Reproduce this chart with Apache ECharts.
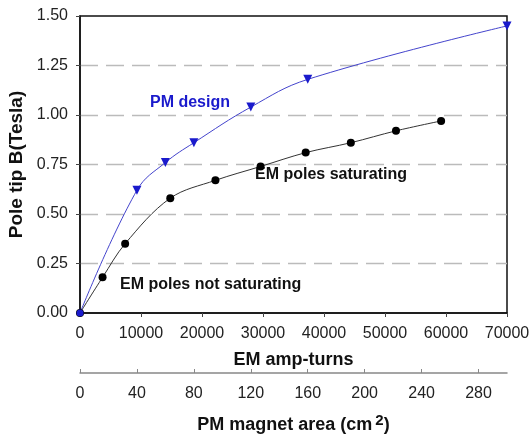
<!DOCTYPE html>
<html><head><meta charset="utf-8">
<script src="https://cdn.jsdelivr.net/npm/echarts@6/dist/echarts.min.js"></script>
<style>html,body{margin:0;padding:0;background:#fff}#c{width:530px;height:436px}</style>
</head><body><div id="c"></div>
<script>
// EM poles (x: EM amp-turns, y: pole tip B in Tesla)
const emAmpTurns = [0, 3700, 7400, 14800, 22200, 29600, 37000, 44400, 51800, 59200];
const emB = [0, 0.18, 0.35, 0.58, 0.67, 0.74, 0.81, 0.86, 0.92, 0.97];
// PM design (x: PM magnet area cm^2, y: pole tip B in Tesla)
const pmArea = [0, 40, 60, 80, 120, 160, 300];
const pmB = [0, 0.62, 0.76, 0.86, 1.04, 1.18, 1.45];
// axis ticks
const yTicks = [0, 0.25, 0.5, 0.75, 1.0, 1.25, 1.5];
const ampTicks = [0, 10000, 20000, 30000, 40000, 50000, 60000, 70000];
const areaTicks = [0, 40, 80, 120, 160, 200, 240, 280];

const FONT = 'Liberation Sans, Arial, sans-serif';
const chart = echarts.init(document.getElementById('c'), null, {renderer: 'canvas'});

const emData = emAmpTurns.map((x, i) => [x, emB[i]]);
const pmData = pmArea.map((x, i) => i === 0 ? {value: [x, pmB[i]], symbol: 'circle', symbolSize: 7, symbolRotate: 0} : [x, pmB[i]]);

chart.setOption({
  animation: false,
  textStyle: {fontFamily: FONT},
  grid: {left: 80, right: 23, top: 16, bottom: 123, containLabel: false, outerBoundsMode: 'none',
         show: true, borderColor: '#111', borderWidth: 1.5, backgroundColor: 'transparent'},
  xAxis: [{
    type: 'value', min: ampTicks[0], max: ampTicks[ampTicks.length - 1], interval: ampTicks[1] - ampTicks[0],
    position: 'bottom',
    axisLine: {show: true, lineStyle: {color: '#111', width: 1.5}},
    axisTick: {show: true, length: 4, lineStyle: {color: '#444'}},
    axisLabel: {color: '#222', fontSize: 16, margin: 13, formatter: v => String(v), fontFamily: FONT},
    splitLine: {show: false},
    name: 'EM amp-turns', nameLocation: 'middle', nameGap: 38,
    nameTextStyle: {color: '#111', fontSize: 18, fontWeight: 'bold', fontFamily: FONT}
  }, {
    type: 'value', min: areaTicks[0], max: 300, interval: areaTicks[1] - areaTicks[0],
    position: 'bottom', offset: 60,
    axisLine: {show: true, lineStyle: {color: '#888', width: 1.5}},
    axisTick: {show: true, inside: true, length: 4, lineStyle: {color: '#888'}},
    axisLabel: {color: '#222', fontSize: 16, margin: 13, showMaxLabel: false, fontFamily: FONT},
    splitLine: {show: false},
    name: '{n|PM magnet area (cm}{s|2}{n|)}', nameLocation: 'middle', nameGap: 40,
    nameTextStyle: {rich: {
      n: {color: '#111', fontSize: 18, fontWeight: 'bold', fontFamily: FONT},
      s: {color: '#111', fontSize: 15, fontWeight: 'bold', fontFamily: FONT, verticalAlign: 'top', padding: [0, 0, 10, 3]}
    }}
  }],
  yAxis: {
    type: 'value', min: yTicks[0], max: yTicks[yTicks.length - 1], interval: yTicks[1] - yTicks[0],
    axisLine: {show: true, lineStyle: {color: '#111', width: 1.5}},
    axisTick: {show: true, length: 4, lineStyle: {color: '#444'}},
    axisLabel: {color: '#222', fontSize: 16, margin: 12, formatter: v => v.toFixed(2), fontFamily: FONT},
    splitLine: {show: true, showMaxLine: false, showMinLine: false, lineStyle: {color: '#bbb', type: [18, 8], width: 1.3}},
    name: 'Pole tip B(Tesla)', nameLocation: 'middle', nameGap: 44, nameRotate: 90,
    nameTextStyle: {color: '#111', fontSize: 19, fontWeight: 'bold', fontFamily: FONT}
  },
  series: [{
    name: 'EM', type: 'line', xAxisIndex: 0, data: emData, smooth: 0.35,
    symbol: 'circle', symbolSize: 8,
    itemStyle: {color: '#000'}, lineStyle: {color: '#333', width: 1}
  }, {
    name: 'PM', type: 'line', xAxisIndex: 1, data: pmData, smooth: 0.4,
    symbol: 'triangle', symbolRotate: 180, symbolSize: 9,
    itemStyle: {color: '#1a1acc'}, lineStyle: {color: '#4444cc', width: 1}
  }],
  graphic: [
    {type: 'text', left: 150, top: 95, style: {text: 'PM design', fill: '#1a1acc', font: 'bold 16px ' + FONT}},
    {type: 'text', left: 255, top: 167, style: {text: 'EM poles saturating', fill: '#111', font: 'bold 16px ' + FONT}},
    {type: 'text', left: 120, top: 277, style: {text: 'EM poles not saturating', fill: '#111', font: 'bold 16px ' + FONT}}
  ]
});
</script></body></html>
